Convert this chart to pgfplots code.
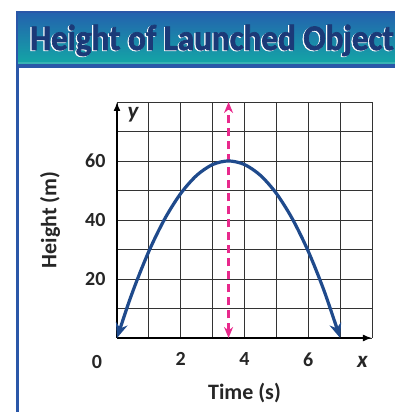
\documentclass[border=0pt]{standalone}
\usepackage{pgfplots}
\pgfplotsset{compat=1.18}
\usepackage{fontspec}
\setmainfont{Carlito}
\newfontfamily\titlefont[FakeBold=2]{Carlito Bold}
\usetikzlibrary{arrows.meta}

\definecolor{bannertop}{HTML}{2364AE}
\definecolor{bannerbot}{HTML}{14A4A6}
\definecolor{bannerline}{HTML}{2A57A8}
\definecolor{titlenavy}{HTML}{1B3A78}
\definecolor{curveblue}{HTML}{1F4A8C}
\definecolor{axismag}{HTML}{E8298C}

\begin{document}
\begin{tikzpicture}[x=1pt,y=1pt]
\useasboundingbox (0,0) rectangle (395,412);
\clip (0,0) rectangle (395,412);
\fill[white] (0,0) rectangle (395,412);

% banner
\fill[bannerline] (16,344) rectangle (400,401);
\shade[top color=bannertop, bottom color=bannerbot] (18,350) rectangle (400,398);
\fill[bannerbot!85!white] (18,348) rectangle (400,350);
% frame of the panel
\fill[bannerline] (16,0) rectangle (18.5,344);

% title
\node[anchor=base west, inner sep=0, text=white] at (28.8,361.2)
  {\titlefont\fontsize{36}{40}\selectfont\scalebox{0.92}[1]{Height of Launched Object}};
\node[anchor=base west, inner sep=0, text=titlenavy] at (30,362)
  {\titlefont\fontsize{36}{40}\selectfont\scalebox{0.92}[1]{Height of Launched Object}};

\begin{axis}[
  at={(117pt,74pt)}, anchor=south west,
  scale only axis, width=255pt, height=236pt,
  xmin=0, xmax=8, ymin=0, ymax=80,
  enlargelimits=false, clip=false,
  axis lines=left,
  axis line style={line width=1.6pt, -{Latex[length=9pt,width=7pt]}},
  xtick={0,1,...,8}, ytick={0,10,...,80},
  xticklabels={,,2,,4,,6,,},
  yticklabels={,,20,,40,,60,,},
  major tick length=0pt,
  grid=major,
  major grid style={line width=0.9pt, black!80},
  /pgf/number format/assume math mode=true,
  tick label style={font=\fontsize{20}{22}\selectfont\bfseries, text=black!85},
  xticklabel style={yshift=-11pt},
  yticklabel style={xshift=-8pt},
]
% axis of symmetry
\addplot[axismag, line width=2.2pt, dash pattern=on 8pt off 5pt,
  {Stealth[length=11pt,width=9pt]}-{Stealth[length=11pt,width=9pt]}]
  coordinates {(3.5,0) (3.5,80)};
% launched object height
\addplot[curveblue, line width=3.2pt, smooth,
  {Stealth[length=15pt,width=12pt]}-{Stealth[length=15pt,width=12pt]}]
  coordinates {
  (0,0) (0.5,15.925) (1,29.4) (1.5,40.425) (2,49) (2.5,55.125)
  (3,58.8) (3.5,60.025) (4,58.8) (4.5,55.125) (5,49) (5.5,40.425)
  (6,29.4) (6.5,15.925) (7,0)};

\node[font=\fontsize{20}{22}\selectfont\bfseries, text=black!85] at (axis cs:-0.63,-8.2) {0};
\node[font=\fontsize{23}{25}\selectfont\bfseries\itshape, text=black!85] at (axis cs:0.5,75.8) {y};
\node[font=\fontsize{23}{25}\selectfont\bfseries\itshape, text=black!85] at (axis cs:7.7,-8.2) {x};
\node[font=\fontsize{22}{24}\selectfont\bfseries, text=black!85] at (axis cs:4.0,-18.7) {Time (s)};
\node[font=\fontsize{22}{24}\selectfont\bfseries, text=black!85, rotate=90] at (axis cs:-2.1,40) {Height (m)};
\end{axis}
\end{tikzpicture}
\end{document}
